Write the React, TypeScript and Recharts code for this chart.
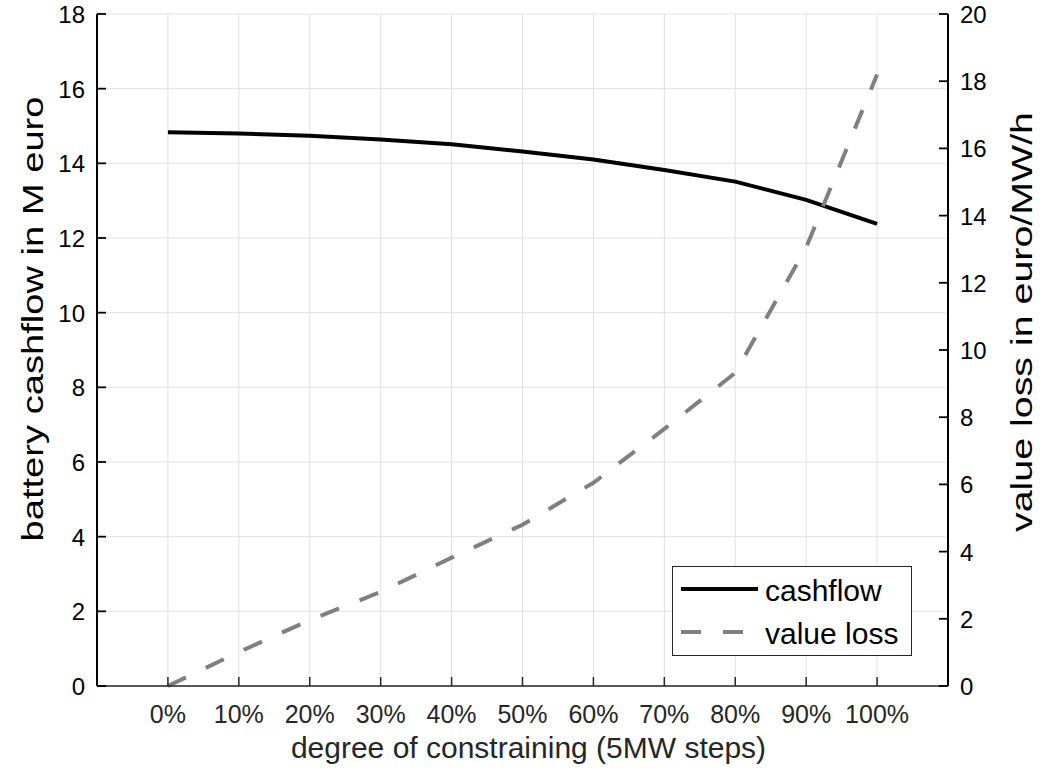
import { LineChart, Line, XAxis, YAxis, CartesianGrid, Legend, Label } from "recharts";

// degree of constraining (5MW steps)
const categories = ["0%", "10%", "20%", "30%", "40%", "50%", "60%", "70%", "80%", "90%", "100%"];
// battery cashflow in M euro (left axis)
const cashflow = [14.83, 14.8, 14.74, 14.64, 14.51, 14.32, 14.1, 13.82, 13.51, 13.02, 12.38];
// value loss in euro/MW/h (right axis)
const valueLoss = [0, 1.01, 1.96, 2.8, 3.82, 4.8, 6.05, 7.65, 9.32, 13.05, 18.2];

const leftTicks = [0, 2, 4, 6, 8, 10, 12, 14, 16, 18];
const rightTicks = [0, 2, 4, 6, 8, 10, 12, 14, 16, 18, 20];
const xTicks = categories.map((_, i) => i);

const data = categories.map((label, i) => ({
  step: i,
  label,
  cashflow: cashflow[i],
  valueLoss: valueLoss[i],
}));

const FONT = '"Liberation Sans", Arial, Helvetica, sans-serif';
const AXIS = "#262626";
const TICK_LEN = 9;

function BottomTick(props: any) {
  const { x, y, payload } = props;
  return (
    <g>
      <line x1={x} y1={y} x2={x} y2={y - TICK_LEN} stroke={AXIS} strokeWidth={1.5} />
      <text x={x} y={y + 37} textAnchor="middle" fontSize={25} fill={AXIS} fontFamily={FONT}>
        {categories[payload.value]}
      </text>
    </g>
  );
}

function TopTick(props: any) {
  const { x, y } = props;
  return <line x1={x} y1={y} x2={x} y2={y + TICK_LEN} stroke={AXIS} strokeWidth={1.5} />;
}

function LeftTick(props: any) {
  const { x, y, payload } = props;
  return (
    <g>
      <line x1={x} y1={y} x2={x + TICK_LEN} y2={y} stroke="#000" strokeWidth={1.8} />
      <text x={x - 12} y={y + 9} textAnchor="end" fontSize={24} fill="#000" fontFamily={FONT}>
        {payload.value}
      </text>
    </g>
  );
}

function RightTick(props: any) {
  const { x, y, payload } = props;
  return (
    <g>
      <line x1={x - TICK_LEN} y1={y} x2={x} y2={y} stroke="#000" strokeWidth={1.8} />
      <text x={x + 12} y={y + 9} textAnchor="start" fontSize={24} fill="#000" fontFamily={FONT}>
        {payload.value}
      </text>
    </g>
  );
}

function LegendBox(props: any) {
  const { payload } = props;
  return (
    <svg width={240} height={90} style={{ display: "block" }}>
      <rect x={0.5} y={0.5} width={239} height={89} fill="#fff" stroke={AXIS} strokeWidth={1} />
      {(payload || []).map((entry: any, i: number) => {
        const cy = 23 + i * 43;
        return (
          <g key={entry.value}>
            <line
              x1={9}
              y1={cy}
              x2={86}
              y2={cy}
              stroke={entry.color}
              strokeWidth={4}
              strokeDasharray={entry.payload?.strokeDasharray}
            />
            <text x={93} y={cy + 12} fontSize={30} fill="#000" fontFamily={FONT}>
              {entry.value}
            </text>
          </g>
        );
      })}
    </svg>
  );
}

function RotatedLabel({ cx, cy, length, text }: { cx: number; cy: number; length: number; text: string }) {
  return (
    <text
      x={cx}
      y={cy}
      transform={`rotate(-90, ${cx}, ${cy})`}
      textAnchor="middle"
      dominantBaseline="central"
      fontSize={30}
      fill="#000"
      fontFamily={FONT}
      textLength={length}
      lengthAdjust="spacingAndGlyphs"
    >
      {text}
    </text>
  );
}

export default function App() {
  return (
    <div style={{ position: "absolute", left: 0, top: 0, width: 1050, height: 771, background: "#fff" }}>
      <LineChart width={1050} height={771} data={data} margin={{ top: 14, right: 0, bottom: 0, left: 0 }}>
        <CartesianGrid xAxisId="bottom" yAxisId="left" stroke="#e1e1e1" strokeWidth={1} />
        <XAxis
          xAxisId="bottom"
          dataKey="step"
          type="number"
          domain={[-1, 11]}
          ticks={xTicks}
          height={85}
          tickSize={0}
          tickMargin={0}
          tickLine={false}
          tick={<BottomTick />}
          axisLine={{ stroke: AXIS, strokeWidth: 1.5 }}
        >
          <Label
            content={({ viewBox }: any) => (
              <text
                x={viewBox.x + viewBox.width / 2 + 6}
                y={viewBox.y + 72}
                textAnchor="middle"
                fontSize={30}
                fill={AXIS}
                fontFamily={FONT}
              >
                degree of constraining (5MW steps)
              </text>
            )}
          />
        </XAxis>
        <XAxis
          xAxisId="top"
          orientation="top"
          dataKey="step"
          type="number"
          domain={[-1, 11]}
          ticks={xTicks}
          height={0}
          tickSize={0}
          tickMargin={0}
          tickLine={false}
          tick={<TopTick />}
          axisLine={{ stroke: "#555", strokeWidth: 1.2 }}
        />
        <YAxis
          yAxisId="left"
          orientation="left"
          type="number"
          domain={[0, 18]}
          ticks={leftTicks}
          width={97}
          tickSize={0}
          tickMargin={0}
          tickLine={false}
          tick={<LeftTick />}
          axisLine={{ stroke: "#000", strokeWidth: 2 }}
        >
          <Label
            content={({ viewBox }: any) => (
              <RotatedLabel
                cx={viewBox.x + 32}
                cy={viewBox.y + viewBox.height / 2 - 31}
                length={445}
                text="battery cashflow in M euro"
              />
            )}
          />
        </YAxis>
        <YAxis
          yAxisId="right"
          orientation="right"
          type="number"
          domain={[0, 20]}
          ticks={rightTicks}
          width={102}
          tickSize={0}
          tickMargin={0}
          tickLine={false}
          tick={<RightTick />}
          axisLine={{ stroke: "#000", strokeWidth: 2 }}
        >
          <Label
            content={({ viewBox }: any) => (
              <RotatedLabel
                cx={viewBox.x + 73}
                cy={viewBox.y + viewBox.height / 2 - 28}
                length={420}
                text="value loss in euro/MW/h"
              />
            )}
          />
        </YAxis>
        <Legend
          layout="horizontal"
          verticalAlign="middle"
          align="center"
          wrapperStyle={{ left: 672, top: 566, width: 240, height: 90 }}
          content={<LegendBox />}
        />
        <Line
          xAxisId="bottom"
          yAxisId="left"
          type="linear"
          dataKey="cashflow"
          name="cashflow"
          stroke="#000"
          strokeWidth={4}
          dot={false}
          activeDot={false}
          isAnimationActive={false}
        />
        <Line
          xAxisId="bottom"
          yAxisId="right"
          type="linear"
          dataKey="valueLoss"
          name="value loss"
          stroke="#808080"
          strokeWidth={4}
          strokeDasharray="20 22"
          dot={false}
          activeDot={false}
          isAnimationActive={false}
        />
      </LineChart>
    </div>
  );
}
